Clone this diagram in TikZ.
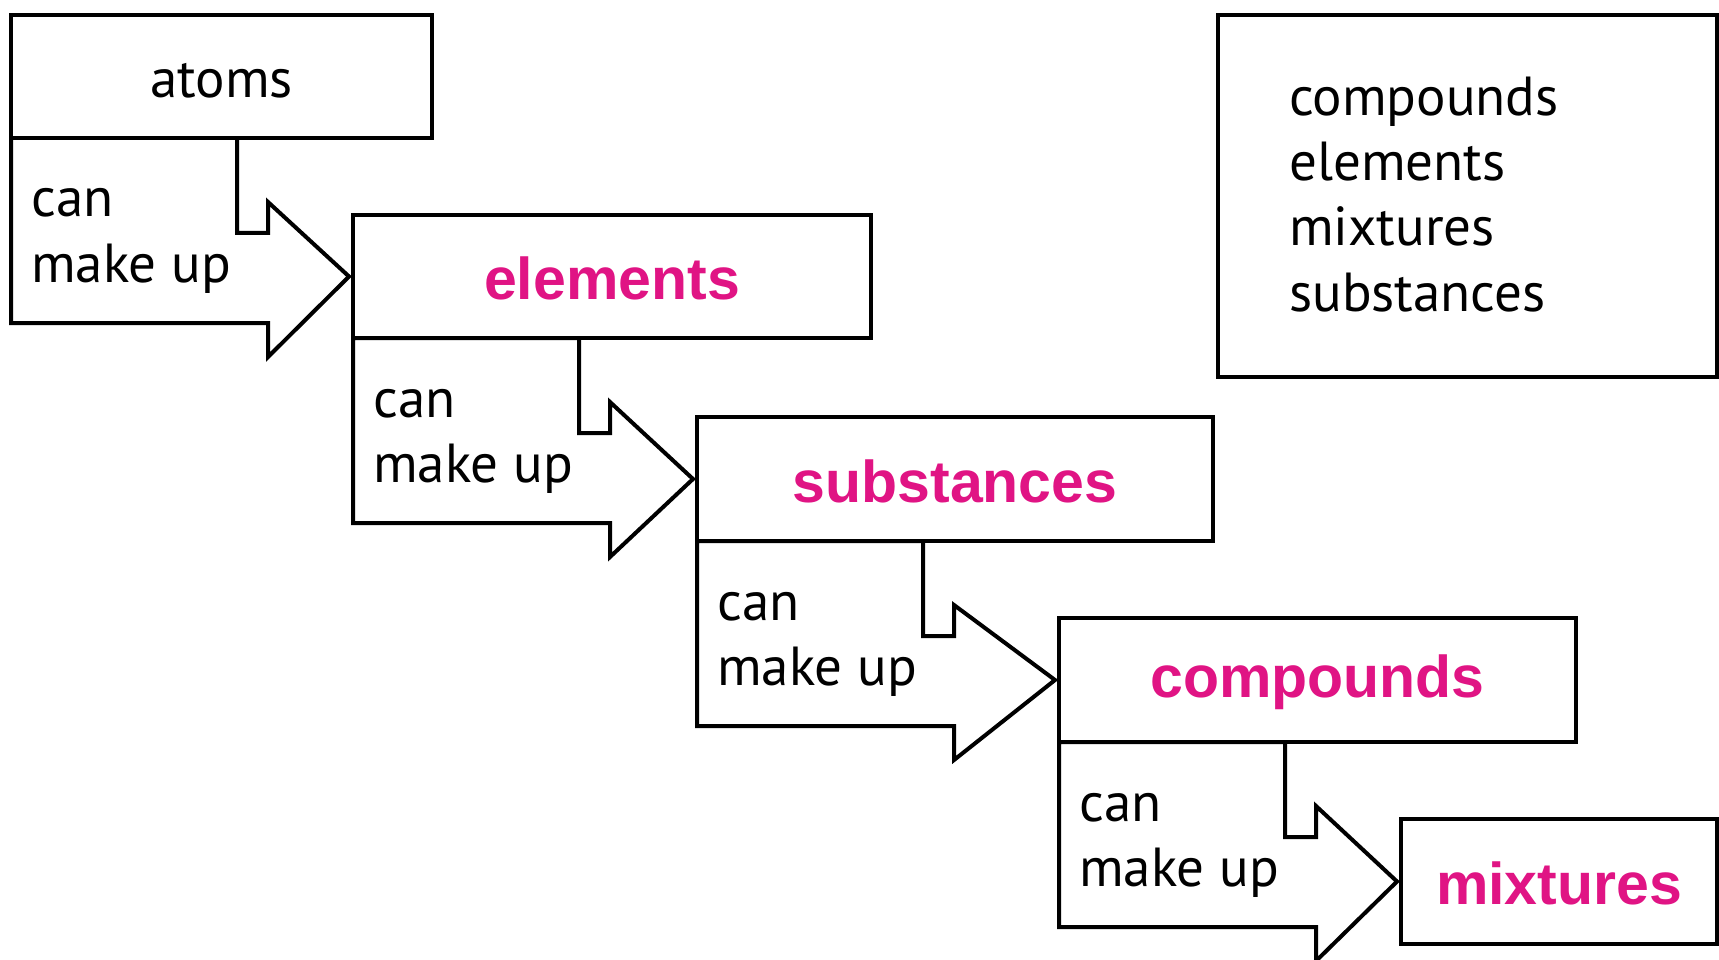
\documentclass[tikz,border=0pt]{standalone}
\usepackage{fontspec}
\setmainfont{PT Sans}
\newfontfamily\boldlab{Liberation Sans}[BoldFont={Liberation Sans Bold}]
\usetikzlibrary{calc}
\definecolor{pinklab}{RGB}{224,20,132}
\begin{document}
\begin{tikzpicture}[x=1pt,y=-1pt,
  box/.style={draw=black, line width=4pt, fill=white, rectangle, anchor=north west, inner sep=0pt, outer sep=0pt},
  arrowshape/.style={draw=black, line width=4pt, fill=white, line join=miter},
  plain/.style={font=\fontsize{55}{65}\selectfont, inner sep=0pt, text=black},
  pinktext/.style={font=\boldlab\bfseries\fontsize{59}{70}\selectfont, text=pinklab, inner sep=0pt}
]
\useasboundingbox (0,0) rectangle (1719,960);
\clip (0,0) rectangle (1719,960);

% boxes (positions)
\node[box, minimum width=421pt, minimum height=123pt] (atoms) at (11,15) {};
\node[box, minimum width=518pt, minimum height=123pt] (elements) at (353,215) {};
\node[box, minimum width=516pt, minimum height=124pt] (substances) at (697,417) {};
\node[box, minimum width=517pt, minimum height=124pt] (compounds) at (1059,618) {};
\node[box, minimum width=316pt, minimum height=125pt] (mixtures) at (1401,819) {};
\node[box, minimum width=499pt, minimum height=362pt] (legend) at (1218,15) {};

% arrows
\foreach \a/\b/\n in {atoms/elements/1, elements/substances/2, substances/compounds/3, compounds/mixtures/4}{
  \draw[arrowshape] (\a.south west) -- ($(\a.south west)+(226,0)$) -- ++(0,95) -- ++(31,0) -- ++(0,-31)
     -- ([xshift=-4pt]\b.west) -- ($(\a.south west)+(257,219)$) -- ++(0,-34)
     -- ($(\a.south west)+(0,185)$) -- cycle;
  \node[plain, anchor=base west] (can\n) at ($(\a.south west)+(20,79)$) {can};
  \node[plain, anchor=base west] (make\n) at ($(\a.south west)+(20,144)$) {make up};
}

% redraw boxes on top of arrows
\foreach \b in {atoms,elements,substances,compounds,mixtures}{
  \draw[line width=4pt, fill=white] (\b.north west) rectangle (\b.south east);
}

% box labels
\node[plain] (tatoms) at ($(atoms.center)+(0,4)$) {atoms};
\node[pinktext] (telements) at ($(elements.center)+(0,2)$) {elements};
\node[pinktext] (tsubstances) at ($(substances.center)+(0,2)$) {substances};
\node[pinktext] (tcompounds) at ($(compounds.center)+(0,2)$) {compounds};
\node[pinktext] (tmixtures) at ($(mixtures.center)+(0,2)$) {mixtures};

% legend words
\node[plain, anchor=base west] (leg1) at (1289,116) {compounds};
\node[plain, anchor=base west] (leg2) at (1289,181) {elements};
\node[plain, anchor=base west] (leg3) at (1289,246) {mixtures};
\node[plain, anchor=base west] (leg4) at (1289,311) {substances};
\end{tikzpicture}
\end{document}
